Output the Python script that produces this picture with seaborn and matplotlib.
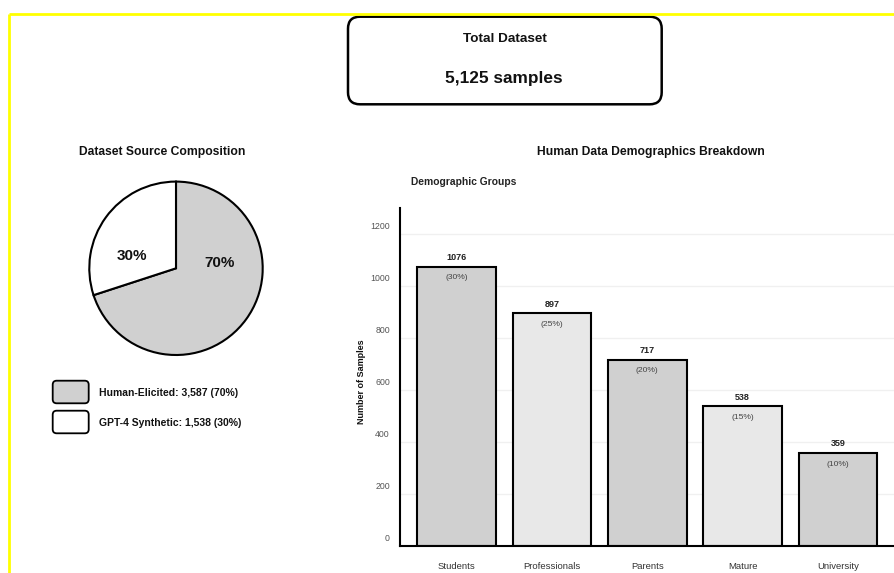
import matplotlib
matplotlib.use("Agg")
import matplotlib.pyplot as plt
from matplotlib.patches import FancyBboxPatch
from matplotlib.transforms import ScaledTranslation
import seaborn as sns
import pandas as pd

# ---- data -------------------------------------------------------------
source_labels = ["Human-Elicited", "GPT-4 Synthetic"]
source_counts = [3587, 1538]
source_colors = ["#d0d0d0", "#ffffff"]

groups = ["Students", "Professionals", "Parents", "Mature", "University"]
group_counts = [1076, 897, 717, 538, 359]
group_colors = ["#d0d0d0", "#e8e8e8", "#d0d0d0", "#e8e8e8", "#d0d0d0"]
y_ticks = [0, 200, 400, 600, 800, 1000, 1200]

total = sum(source_counts)
human_total = source_counts[0]

# ---- figure setup -----------------------------------------------------
W, H = 894, 573
sns.set_theme(style="white")
plt.rcParams["font.family"] = ["Liberation Sans", "DejaVu Sans"]

fig = plt.figure(figsize=(W / 100, H / 100), dpi=100, facecolor="white")


def frac(x0, y0, x1, y1):
    """Pixel box (origin top-left) -> figure-fraction rect."""
    return [x0 / W, 1 - y1 / H, (x1 - x0) / W, (y1 - y0) / H]


# ---- bar chart: human data demographics -------------------------------
ax = fig.add_axes(frac(400.3, 207.5, 895, 546.3))
df = pd.DataFrame({"group": groups, "count": group_counts})
sns.barplot(data=df, x="group", y="count", hue="group", palette=group_colors,
            legend=False, width=0.824, edgecolor="black", linewidth=1.5,
            saturation=1, ax=ax, zorder=2)
ax.set_xlim(-0.592, 4.6)
ax.set_ylim(0, 1303)
ax.set_yticks(y_ticks)
ax.yaxis.grid(True, color="#f0f0f0", lw=1)
ax.xaxis.grid(False)
ax.set_axisbelow(True)
for side in ("top", "right"):
    ax.spines[side].set_visible(False)
for side in ("left", "bottom"):
    ax.spines[side].set_color("black")
    ax.spines[side].set_linewidth(1.5)
ax.tick_params(axis="both", length=0)
ax.tick_params(axis="y", pad=7.5, labelsize=6.3, labelcolor="#555555")
ax.tick_params(axis="x", pad=11, labelsize=6.8, labelcolor="#333333")
lift = ScaledTranslation(0, 0.085, fig.dpi_scale_trans)
for lbl in ax.get_yticklabels():
    lbl.set_transform(lbl.get_transform() + lift)
ax.set_xlabel("")
ax.set_ylabel("Number of Samples", fontsize=6.5, fontweight="bold", color="#111111")
ax.yaxis.set_label_coords(-0.069, 0.486)

for i, v in enumerate(group_counts):
    ax.annotate(f"{v}", (i, v), xytext=(0, 6.5), textcoords="offset points",
                ha="center", va="center", fontsize=6.5, fontweight="bold",
                color="#222222")
    ax.annotate(f"({round(100 * v / human_total)}%)", (i, v), xytext=(0, -8),
                textcoords="offset points", ha="center", va="center",
                fontsize=6.1, color="#444444")

# ---- pie chart: dataset source composition ----------------------------
cx, cy, r = 176, 268.3, 86.7
lim = 1.05
pa = fig.add_axes(frac(cx - r * lim, cy - r * lim, cx + r * lim, cy + r * lim))
pa.pie(source_counts, colors=source_colors, startangle=90, counterclock=False,
       wedgeprops=dict(edgecolor="black", linewidth=1.5))
pa.set_xlim(-lim, lim)
pa.set_ylim(-lim, lim)
pa.set_aspect("equal")
pie_label_pos = [(0.507, 0.058), (-0.51, 0.142)]
for (px, py), c in zip(pie_label_pos, source_counts):
    pa.text(px, py, f"{round(100 * c / total)}%", ha="center", va="center",
            fontsize=11, fontweight="bold", color="#111111")

# ---- overlay: headers, summary box, legend, frame ---------------------
ov = fig.add_axes([0, 0, 1, 1])
ov.set_xlim(0, W)
ov.set_ylim(H, 0)
ov.axis("off")
ov.patch.set_alpha(0)

# page frame
ov.plot([9, W + 5], [14, 14], color="#ffff00", lw=2, solid_capstyle="butt")
ov.plot([9, 9], [14, H + 5], color="#ffff00", lw=2, solid_capstyle="butt")

# summary box
ov.add_patch(FancyBboxPatch((348, 16.7), 313.7, 87.6,
                            boxstyle="round,pad=0,rounding_size=12",
                            fc="white", ec="black", lw=1.8))
ov.text(505, 39, "Total Dataset", ha="center", va="center", fontsize=9.7,
        fontweight="bold", color="#111111")
ov.text(504.3, 78, f"{total:,} samples", ha="center", va="center",
        fontsize=12.4, fontweight="bold", color="#111111")

# panel headings
ov.text(161.7, 151.7, "Dataset Source Composition", ha="center", va="center",
        fontsize=8.7, fontweight="bold", color="#111111")
ov.text(651, 151.7, "Human Data Demographics Breakdown", ha="center",
        va="center", fontsize=8.7, fontweight="bold", color="#111111")
ov.text(411, 181.7, "Demographic Groups", ha="left", va="center",
        fontsize=7.4, fontweight="bold", color="#222222")

# pie legend
for k, (lab, c, col) in enumerate(zip(source_labels, source_counts, source_colors)):
    y0 = 380.7 + k * 30
    ov.add_patch(FancyBboxPatch((52.7, y0), 36, 22.6,
                                boxstyle="round,pad=0,rounding_size=4",
                                fc=col, ec="black", lw=1.3))
    ov.text(99.3, y0 + 12, f"{lab}: {c:,} ({round(100 * c / total)}%)",
            ha="left", va="center", fontsize=7.5, fontweight="bold",
            color="#111111")

fig.savefig("out.png", dpi=100, facecolor="white")
